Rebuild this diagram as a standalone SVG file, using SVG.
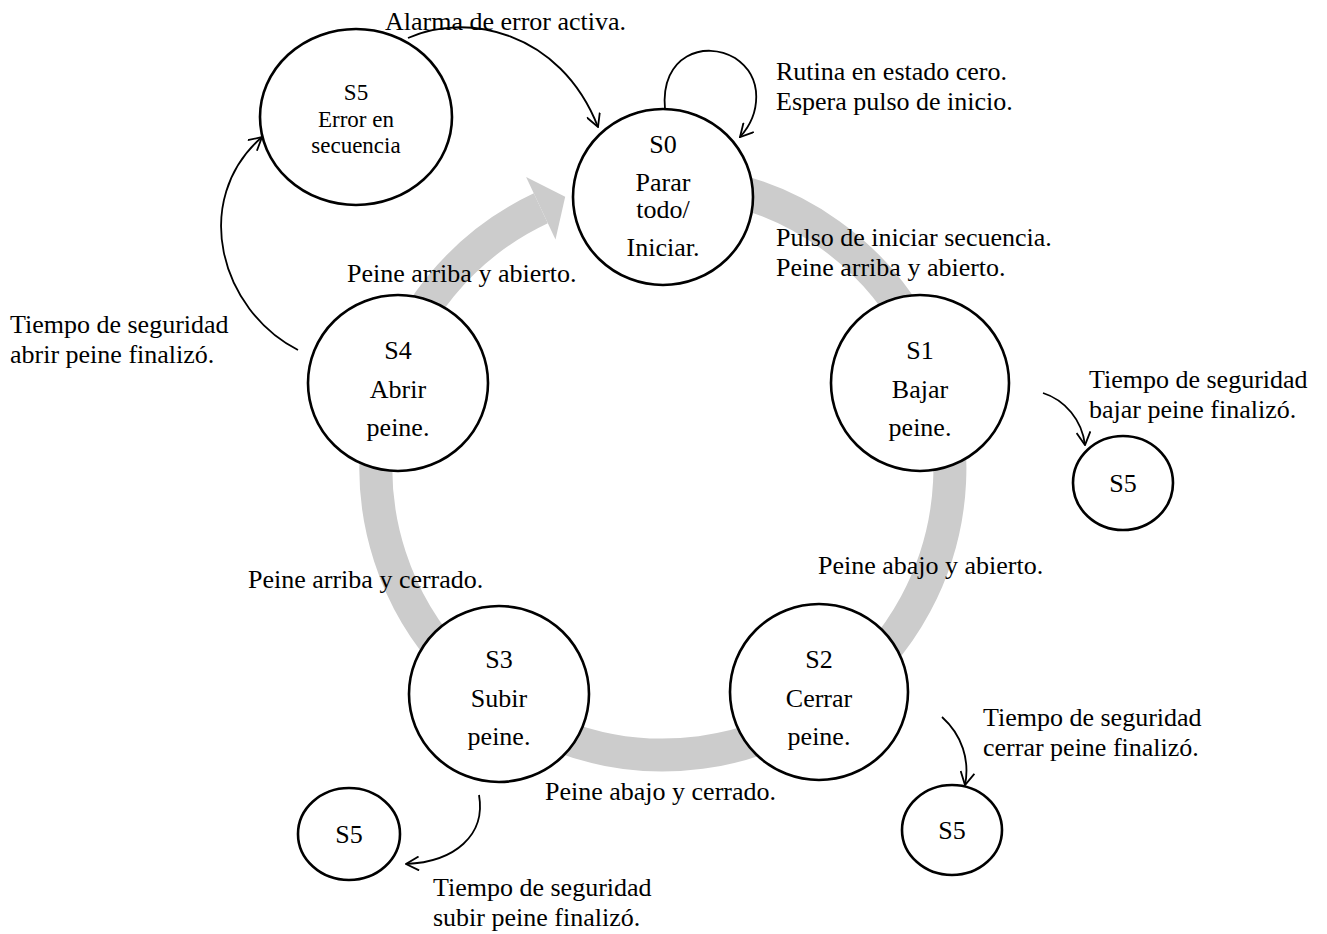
<svg xmlns="http://www.w3.org/2000/svg" width="1327" height="934" viewBox="0 0 1327 934">
  <style>
    .node { fill: #ffffff; stroke: #000000; stroke-width: 2.6; }
    .lbl { font-family: "Liberation Serif", "Times New Roman", serif; font-size: 26px; fill: #000000; }
    .nl { text-anchor: middle; }
    .sm { font-size: 23px; }
    .edge { fill: none; stroke: #000000; stroke-width: 1.8; }
    .ring { fill: none; stroke: #cccccc; stroke-width: 33; }
  </style>
  <defs>
    <marker id="open" viewBox="0 0 14 14" refX="13" refY="7" markerWidth="15" markerHeight="15" markerUnits="userSpaceOnUse" orient="auto">
      <path d="M1,0.5 L13,7 L1,13.5" fill="none" stroke="#000000" stroke-width="1.7"/>
    </marker>
  </defs>

  <rect width="1327" height="934" fill="#ffffff"/>

  <!-- main cycle: wide grey band S0 -> S1 -> S2 -> S3 -> S4 -> S0 -->
  <g id="cycle">
    <path class="ring" d="M712.8,185.4 A287,287 0 1 1 540.8,208.3"/>
    <polygon points="526.1,177.1 565.2,196.8 555.5,239.5" fill="#cccccc"/>
  </g>

  <!-- transition connectors -->
  <g id="connectors">
    <path class="edge" d="M408,38 C465,12 560,30 598,127" marker-end="url(#open)"/>
    <path class="edge" d="M665,109 C660,55 705,40 735,58 C765,78 760,115 740,137" marker-end="url(#open)"/>
    <path class="edge" d="M298,350 C220,310 190,200 262,137" marker-end="url(#open)"/>
    <path class="edge" d="M1043,393 C1065,400 1082,420 1085,445" marker-end="url(#open)"/>
    <path class="edge" d="M942,717 C962,735 970,760 965,785" marker-end="url(#open)"/>
    <path class="edge" d="M479,795 C486,835 455,862 406,864" marker-end="url(#open)"/>
  </g>

  <!-- states -->
  <g id="S5-error">
    <ellipse class="node" cx="356" cy="117" rx="96" ry="88"/>
    <text class="lbl nl sm" x="356" y="100">S5</text>
    <text class="lbl nl sm" x="356" y="127">Error en</text>
    <text class="lbl nl sm" x="356" y="153">secuencia</text>
  </g>
  <g id="S0">
    <ellipse class="node" cx="663" cy="197" rx="90" ry="88"/>
    <text class="lbl nl" x="663" y="153">S0</text>
    <text class="lbl nl" x="663" y="191">Parar</text>
    <text class="lbl nl" x="663" y="218">todo/</text>
    <text class="lbl nl" x="663" y="256">Iniciar.</text>
  </g>
  <g id="S1">
    <ellipse class="node" cx="920" cy="383" rx="89" ry="88"/>
    <text class="lbl nl" x="920" y="359">S1</text>
    <text class="lbl nl" x="920" y="398">Bajar</text>
    <text class="lbl nl" x="920" y="436">peine.</text>
  </g>
  <g id="S2">
    <ellipse class="node" cx="819" cy="692" rx="89" ry="88"/>
    <text class="lbl nl" x="819" y="668">S2</text>
    <text class="lbl nl" x="819" y="707">Cerrar</text>
    <text class="lbl nl" x="819" y="745">peine.</text>
  </g>
  <g id="S3">
    <ellipse class="node" cx="499" cy="694" rx="90" ry="88"/>
    <text class="lbl nl" x="499" y="668">S3</text>
    <text class="lbl nl" x="499" y="707">Subir</text>
    <text class="lbl nl" x="499" y="745">peine.</text>
  </g>
  <g id="S4">
    <ellipse class="node" cx="398" cy="383" rx="90" ry="88"/>
    <text class="lbl nl" x="398" y="359">S4</text>
    <text class="lbl nl" x="398" y="398">Abrir</text>
    <text class="lbl nl" x="398" y="436">peine.</text>
  </g>
  <g id="S5-from-S1">
    <ellipse class="node" cx="1123" cy="483" rx="50" ry="47"/>
    <text class="lbl nl" x="1123" y="492">S5</text>
  </g>
  <g id="S5-from-S2">
    <ellipse class="node" cx="952" cy="830" rx="50" ry="45"/>
    <text class="lbl nl" x="952" y="839">S5</text>
  </g>
  <g id="S5-from-S3">
    <ellipse class="node" cx="349" cy="834" rx="51" ry="46"/>
    <text class="lbl nl" x="349" y="843">S5</text>
  </g>

  <!-- transition conditions -->
  <g id="labels">
    <text class="lbl" x="385" y="30">Alarma de error activa.</text>
    <text class="lbl" x="776" y="80">Rutina en estado cero.</text>
    <text class="lbl" x="776" y="110">Espera pulso de inicio.</text>
    <text class="lbl" x="776" y="246">Pulso de iniciar secuencia.</text>
    <text class="lbl" x="776" y="276">Peine arriba y abierto.</text>
    <text class="lbl" x="347" y="282">Peine arriba y abierto.</text>
    <text class="lbl" x="10" y="333">Tiempo de seguridad</text>
    <text class="lbl" x="10" y="363">abrir peine finalizó.</text>
    <text class="lbl" x="1089" y="388">Tiempo de seguridad</text>
    <text class="lbl" x="1089" y="418">bajar peine finalizó.</text>
    <text class="lbl" x="818" y="574">Peine abajo y abierto.</text>
    <text class="lbl" x="248" y="588">Peine arriba y cerrado.</text>
    <text class="lbl" x="545" y="800">Peine abajo y cerrado.</text>
    <text class="lbl" x="983" y="726">Tiempo de seguridad</text>
    <text class="lbl" x="983" y="756">cerrar peine finalizó.</text>
    <text class="lbl" x="433" y="896">Tiempo de seguridad</text>
    <text class="lbl" x="433" y="926">subir peine finalizó.</text>
  </g>
</svg>
